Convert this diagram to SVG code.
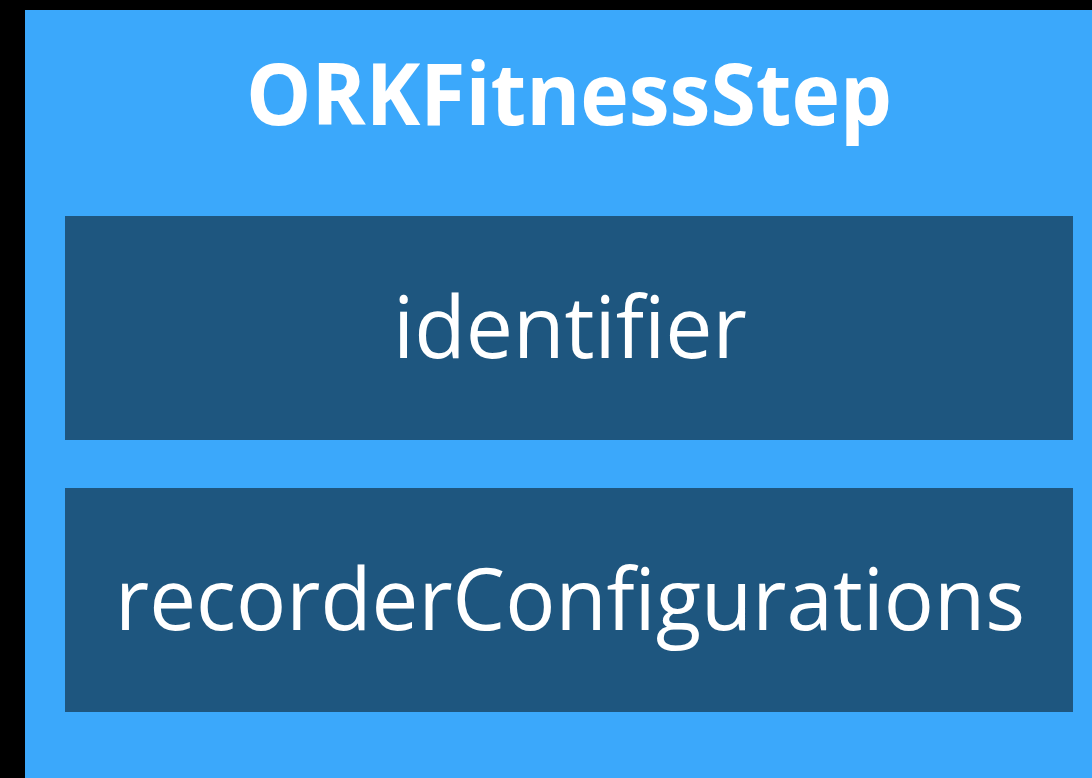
<svg xmlns="http://www.w3.org/2000/svg" width="1092" height="778" viewBox="0 0 1092 778">
<style>
.t{font-family:"Open Sans","Liberation Sans",sans-serif;fill:#fff;text-anchor:middle}
.title{font-size:86px;font-weight:bold}
.prop{font-size:86px}
.box{fill:#1E567F}
</style>
<rect width="1092" height="778" fill="#000"/>
<g id="step">
<rect x="25" y="10" width="1067" height="768" fill="#3BA8FB"/>
<text class="t title" x="569" y="125" textLength="646" lengthAdjust="spacingAndGlyphs">ORKFitnessStep</text>
</g>
<g id="identifier">
<rect class="box" x="65" y="216" width="1008" height="224"/>
<text class="t prop" x="570" y="358" textLength="354" lengthAdjust="spacingAndGlyphs">identifier</text>
</g>
<g id="recorderConfigurations">
<rect class="box" x="65" y="488" width="1008" height="224"/>
<text class="t prop" x="570" y="630" textLength="910" lengthAdjust="spacingAndGlyphs">recorderConfigurations</text>
</g>
<g id="connectors"/>
</svg>
